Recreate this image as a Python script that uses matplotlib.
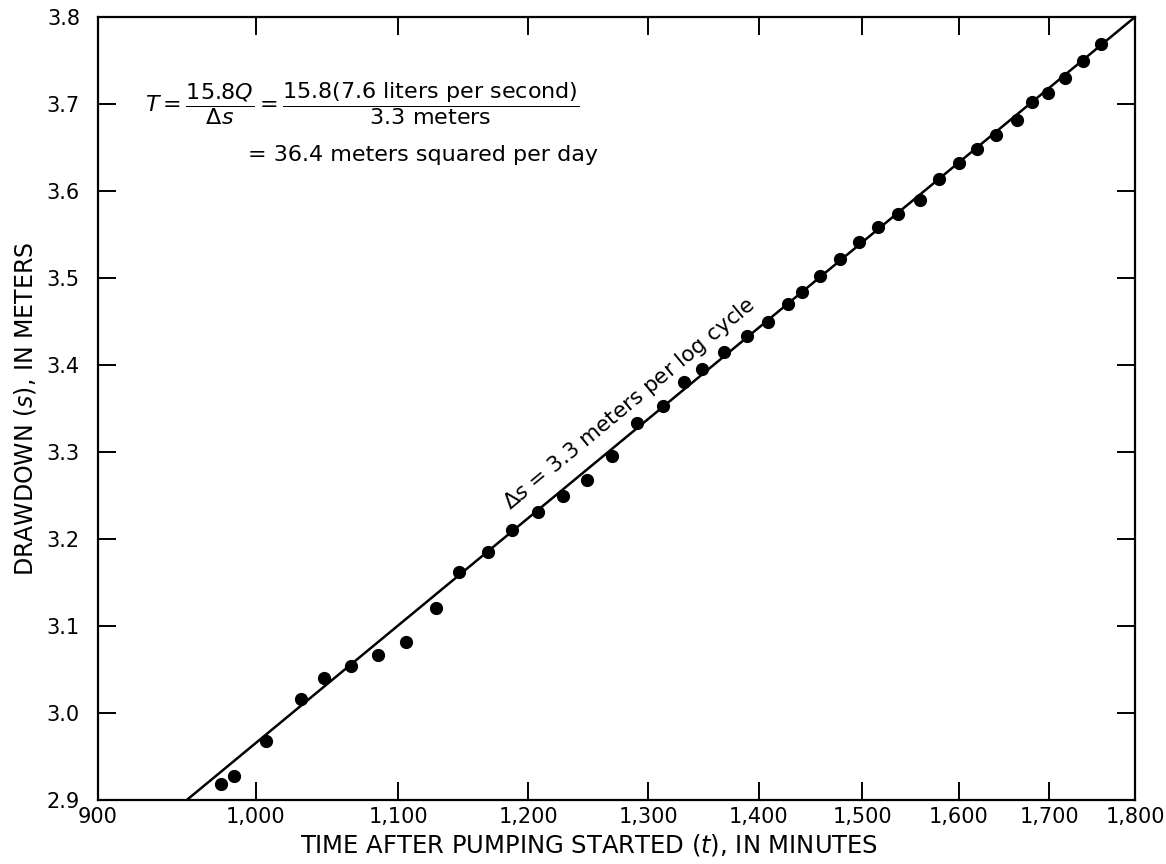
import matplotlib
matplotlib.use("Agg")
import matplotlib.pyplot as plt
from matplotlib.ticker import FixedLocator, FixedFormatter, NullLocator

plt.rcParams['font.family'] = ['DejaVu Sans']
plt.rcParams['mathtext.fontset'] = 'dejavusans'

time_min = [977, 986, 1007, 1031, 1047, 1066, 1085, 1106, 1128, 1146,
            1168, 1187, 1208, 1228, 1248, 1269, 1290, 1313, 1332, 1348,
            1368, 1389, 1408, 1427, 1441, 1458, 1478, 1497, 1516, 1536,
            1559, 1579, 1600, 1620, 1640, 1664, 1680, 1698, 1718, 1738, 1759]
drawdown_m = [2.919, 2.928, 2.968, 3.016, 3.040, 3.054, 3.067, 3.082, 3.121, 3.162,
              3.185, 3.210, 3.231, 3.249, 3.268, 3.295, 3.333, 3.353, 3.381, 3.396,
              3.415, 3.433, 3.450, 3.470, 3.484, 3.502, 3.522, 3.541, 3.559, 3.574,
              3.590, 3.614, 3.632, 3.648, 3.664, 3.682, 3.702, 3.713, 3.730, 3.749, 3.769]

## Straight-line fit ##
fit_t = [955, 1800]
fit_s = [2.9, 3.8]

x_ticks = [900, 1000, 1100, 1200, 1300, 1400, 1500, 1600, 1700, 1800]
x_labels = ['900', '1,000', '1,100', '1,200', '1,300', '1,400', '1,500', '1,600', '1,700', '1,800']
y_ticks = [2.9, 3.0, 3.1, 3.2, 3.3, 3.4, 3.5, 3.6, 3.7, 3.8]
y_labels = ['2.9', '3.0', '3.1', '3.2', '3.3', '3.4', '3.5', '3.6', '3.7', '3.8']

fig = plt.figure(figsize=(11.66, 8.64), dpi=100)
ax = fig.add_axes([0.084, 0.074, 0.8894, 0.9063])

ax.plot(fit_t, fit_s, color='black', lw=1.8, solid_capstyle='butt')
ax.plot(time_min, drawdown_m, 'o', color='black', ms=8.5, mec='black')

ax.set_xscale('log')
ax.set_xlim(900, 1800)
ax.set_ylim(2.9, 3.8)
ax.xaxis.set_major_locator(FixedLocator(x_ticks))
ax.xaxis.set_major_formatter(FixedFormatter(x_labels))
ax.xaxis.set_minor_locator(NullLocator())
ax.yaxis.set_major_locator(FixedLocator(y_ticks))
ax.yaxis.set_major_formatter(FixedFormatter(y_labels))
ax.tick_params(direction='in', length=13, width=1.4, labelsize=15,
               top=True, right=True)
ax.tick_params(axis='x', pad=5)
ax.tick_params(axis='y', pad=13)
for sp in ax.spines.values():
    sp.set_linewidth(1.6)

ax.set_xlabel('TIME AFTER PUMPING STARTED $(t)$, IN MINUTES', fontsize=17.5)
ax.xaxis.set_label_coords(0.473, -0.041)
ax.set_ylabel('DRAWDOWN $(s)$, IN METERS', fontsize=17, labelpad=6)

## Annotations ##
ax.text(0.045, 0.89,
        r'$T = \dfrac{\mathrm{15.8}Q}{\Delta s} = '
        r'\dfrac{\mathrm{15.8(7.6\ liters\ per\ second)}}{\mathrm{3.3\ meters}}$',
        transform=ax.transAxes, fontsize=16, va='center', ha='left')
ax.text(0.145, 0.824, '= 36.4 meters squared per day',
        transform=ax.transAxes, fontsize=16, va='center', ha='left')
ax.text(1284, 3.355, r'$\Delta s$ = 3.3 meters per log cycle', fontsize=15.5,
        rotation=39.6, rotation_mode='anchor', ha='center', va='center')

plt.savefig('out.png', dpi=100)
